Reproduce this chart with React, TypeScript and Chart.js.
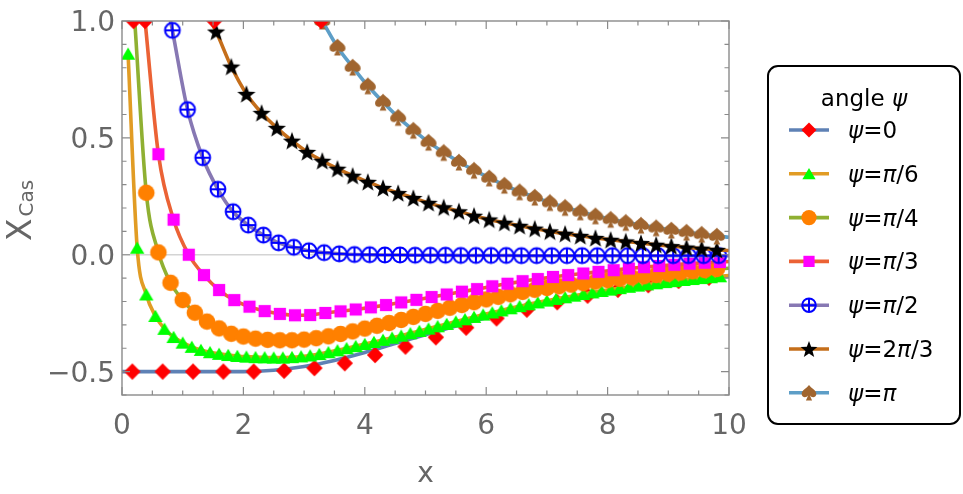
import { useEffect, useRef } from 'react';
import { Chart, registerables } from 'chart.js';

Chart.register(...registerables);

const W = 963;
const H = 494;

// ---- axes -----------------------------------------------------------------
const xRange = [0, 10];
const yRange = [-0.6, 1.0];
const xMajor = [0, 2, 4, 6, 8, 10];
const xMajorLabels = ['0', '2', '4', '6', '8', '10'];
const yMajor = [-0.5, 0, 0.5, 1.0];
const yMajorLabels = ['\u22120.5', '0.0', '0.5', '1.0'];
const xMinorStep = 0.5;
const yMinorStep = 0.1;

// ---- series ----------------------------------------------------------------
const seriesLabels = ['ψ=0', 'ψ=π/6', 'ψ=π/4', 'ψ=π/3', 'ψ=π/2', 'ψ=2π/3', 'ψ=π'];
const lineColors = ['#5E81B5', '#E19C24', '#8FB032', '#EB6235', '#8778B3', '#C56E1A', '#5D9EC7'];
const markColors = ['#FF0000', '#00FF00', '#FF8000', '#FF00FF', '#0000FF', '#000000', '#A0652F'];

// ψ = 0 : markers and the smooth curve
const psi0X = [0.17, 0.67, 1.17, 1.67, 2.17, 2.67, 3.17, 3.67, 4.17, 4.67, 5.17, 5.67, 6.17, 6.67, 7.17, 7.67, 8.17, 8.67, 9.17, 9.67];
const psi0Y = [-0.5, -0.5, -0.5, -0.5, -0.5, -0.496, -0.485, -0.464, -0.429, -0.393, -0.353, -0.312, -0.272, -0.235, -0.203, -0.175, -0.15, -0.13, -0.112, -0.098];
const psi0CurveX = [0, 1, 2, 2.5, 3, 3.5, 4, 4.5, 5, 5.5, 6, 6.5, 7, 7.5, 8, 8.5, 9, 9.5, 10];
const psi0CurveY = [-0.5, -0.5, -0.5, -0.494, -0.478, -0.452, -0.418, -0.38, -0.342, -0.305, -0.27, -0.238, -0.209, -0.183, -0.16, -0.14, -0.122, -0.106, -0.092];

// ψ = π/6
const psi6X = [0.10, 0.25, 0.40, 0.55, 0.70, 0.85, 1.00, 1.15, 1.30, 1.45, 1.60, 1.75, 1.90, 2.05, 2.20, 2.35, 2.50, 2.65, 2.80, 2.95, 3.10, 3.25, 3.40, 3.55, 3.70, 3.85, 4.00, 4.15, 4.30, 4.45, 4.60, 4.75, 4.90, 5.05, 5.20, 5.35, 5.50, 5.65, 5.80, 5.95, 6.10, 6.25, 6.40, 6.55, 6.70, 6.85, 7.00, 7.15, 7.30, 7.45, 7.60, 7.75, 7.90, 8.05, 8.20, 8.35, 8.50, 8.65, 8.80, 8.95, 9.10, 9.25, 9.40, 9.55, 9.70, 9.85];
const psi6Y = [0.86, 0.03, -0.17, -0.262, -0.317, -0.352, -0.376, -0.394, -0.407, -0.417, -0.424, -0.429, -0.433, -0.436, -0.438, -0.439, -0.44, -0.44, -0.438, -0.435, -0.431, -0.425, -0.417, -0.409, -0.4, -0.391, -0.382, -0.373, -0.364, -0.355, -0.346, -0.336, -0.326, -0.316, -0.306, -0.296, -0.286, -0.276, -0.266, -0.256, -0.247, -0.238, -0.229, -0.22, -0.212, -0.204, -0.196, -0.189, -0.182, -0.175, -0.168, -0.161, -0.155, -0.149, -0.143, -0.137, -0.132, -0.127, -0.122, -0.117, -0.113, -0.108, -0.104, -0.1, -0.096, -0.092];

// ψ = π/4
const psi4X = [0.4, 0.6, 0.8, 1.0, 1.2, 1.4, 1.6, 1.8, 2.0, 2.2, 2.4, 2.6, 2.8, 3.0, 3.2, 3.4, 3.6, 3.8, 4.0, 4.2, 4.4, 4.6, 4.8, 5.0, 5.2, 5.4, 5.6, 5.8, 6.0, 6.2, 6.4, 6.6, 6.8, 7.0, 7.2, 7.4, 7.6, 7.8, 8.0, 8.2, 8.4, 8.6, 8.8, 9.0, 9.2, 9.4, 9.6, 9.8];
const psi4Y = [0.265, 0.01, -0.12, -0.194, -0.248, -0.286, -0.315, -0.338, -0.35, -0.359, -0.364, -0.366, -0.366, -0.363, -0.357, -0.349, -0.339, -0.328, -0.316, -0.304, -0.292, -0.279, -0.266, -0.253, -0.24, -0.227, -0.215, -0.203, -0.191, -0.18, -0.169, -0.159, -0.15, -0.142, -0.135, -0.128, -0.122, -0.115, -0.109, -0.103, -0.097, -0.092, -0.087, -0.081, -0.076, -0.071, -0.066, -0.061];

// ψ = π/3
const psi3X = [0.60, 0.85, 1.10, 1.35, 1.60, 1.85, 2.10, 2.35, 2.60, 2.85, 3.10, 3.35, 3.60, 3.85, 4.10, 4.35, 4.60, 4.85, 5.10, 5.35, 5.60, 5.85, 6.10, 6.35, 6.60, 6.85, 7.10, 7.35, 7.60, 7.85, 8.10, 8.35, 8.60, 8.85, 9.10, 9.35, 9.60, 9.85];
const psi3Y = [0.43, 0.15, 0.0, -0.087, -0.151, -0.194, -0.222, -0.241, -0.253, -0.259, -0.258, -0.249, -0.242, -0.234, -0.225, -0.215, -0.204, -0.193, -0.181, -0.17, -0.158, -0.147, -0.135, -0.124, -0.113, -0.104, -0.095, -0.087, -0.08, -0.073, -0.066, -0.059, -0.053, -0.048, -0.043, -0.038, -0.034, -0.031];

// ψ = π/2
const psi2X = [0.83, 1.08, 1.33, 1.58, 1.83, 2.08, 2.33, 2.58, 2.83, 3.08, 3.33, 3.58, 3.83, 4.08, 4.33, 4.58, 4.83, 5.08, 5.33, 5.58, 5.83, 6.08, 6.33, 6.58, 6.83, 7.08, 7.33, 7.58, 7.83, 8.08, 8.33, 8.58, 8.83, 9.08, 9.33, 9.58, 9.83];
const psi2Y = [0.96, 0.621, 0.415, 0.28, 0.184, 0.127, 0.084, 0.051, 0.032, 0.017, 0.009, 0.004, 0.001, 0.0, -0.001, -0.001, -0.002, -0.002, -0.002, -0.003, -0.003, -0.003, -0.003, -0.004, -0.004, -0.004, -0.004, -0.004, -0.004, -0.004, -0.004, -0.004, -0.004, -0.004, -0.004, -0.004, -0.004];

// ψ = 2π/3
const psi23X = [1.55, 1.80, 2.05, 2.30, 2.55, 2.80, 3.05, 3.30, 3.55, 3.80, 4.05, 4.30, 4.55, 4.80, 5.05, 5.30, 5.55, 5.80, 6.05, 6.30, 6.55, 6.80, 7.05, 7.30, 7.55, 7.80, 8.05, 8.30, 8.55, 8.80, 9.05, 9.30, 9.55, 9.80];
const psi23Y = [0.955, 0.805, 0.688, 0.607, 0.543, 0.488, 0.44, 0.402, 0.368, 0.338, 0.312, 0.286, 0.264, 0.243, 0.222, 0.203, 0.186, 0.167, 0.151, 0.137, 0.124, 0.112, 0.1, 0.09, 0.081, 0.072, 0.064, 0.057, 0.05, 0.043, 0.037, 0.031, 0.026, 0.021];

// ψ = π
const psiPiX = [3.30, 3.55, 3.80, 4.05, 4.30, 4.55, 4.80, 5.05, 5.30, 5.55, 5.80, 6.05, 6.30, 6.55, 6.80, 7.05, 7.30, 7.55, 7.80, 8.05, 8.30, 8.55, 8.80, 9.05, 9.30, 9.55, 9.80];
const psiPiY = [1.0, 0.889, 0.803, 0.723, 0.653, 0.588, 0.533, 0.482, 0.438, 0.397, 0.362, 0.329, 0.298, 0.27, 0.247, 0.224, 0.203, 0.184, 0.167, 0.152, 0.139, 0.127, 0.116, 0.106, 0.097, 0.088, 0.08];

// x where a curve comes down through the top of the frame (y = 1), and its value at x = 10
const entryX = [null, null, 0.21, 0.38, 0.8, 1.46, null];
const exitY = [null, -0.089, -0.058, -0.029, -0.004, 0.018, 0.075];

// points lying above the frame are marked on its top edge
const topEdgeX = [0.19, 0.38, 1.52, 3.28];

const markX = [psi0X, psi6X, psi4X, psi3X, psi2X, psi23X, psiPiX];
const markY = [psi0Y, psi6Y, psi4Y, psi3Y, psi2Y, psi23Y, psiPiY];

// ---- marker glyphs ---------------------------------------------------------
const MS = 22;
type Kind = 'diamond' | 'triangle' | 'circle' | 'square' | 'circlePlus' | 'star' | 'spade';
const kinds: Kind[] = ['diamond', 'triangle', 'circle', 'square', 'circlePlus', 'star', 'spade'];

function drawMarker(ctx: CanvasRenderingContext2D, kind: Kind, cx: number, cy: number, color: string, k = 1) {
  ctx.save();
  ctx.fillStyle = color;
  ctx.strokeStyle = color;
  ctx.beginPath();
  if (kind === 'diamond') {
    const r = 8.2 * k;
    ctx.moveTo(cx, cy - r);
    ctx.lineTo(cx + r, cy);
    ctx.lineTo(cx, cy + r);
    ctx.lineTo(cx - r, cy);
    ctx.closePath();
    ctx.fill();
  } else if (kind === 'triangle') {
    ctx.moveTo(cx, cy - 6.3 * k);
    ctx.lineTo(cx + 7.2 * k, cy + 6.0 * k);
    ctx.lineTo(cx - 7.2 * k, cy + 6.0 * k);
    ctx.closePath();
    ctx.fill();
  } else if (kind === 'circle') {
    ctx.arc(cx, cy, 8.3 * k, 0, Math.PI * 2);
    ctx.fill();
  } else if (kind === 'square') {
    const h = 6.1 * k;
    ctx.rect(cx - h, cy - h, 2 * h, 2 * h);
    ctx.fill();
  } else if (kind === 'circlePlus') {
    const r = 7.4 * k;
    ctx.lineWidth = 2;
    ctx.arc(cx, cy, r, 0, Math.PI * 2);
    ctx.moveTo(cx - r, cy);
    ctx.lineTo(cx + r, cy);
    ctx.moveTo(cx, cy - r);
    ctx.lineTo(cx, cy + r);
    ctx.stroke();
  } else if (kind === 'star') {
    const R = 9.6 * k;
    const r = 4.0 * k;
    const oy = cy + 0.9 * k;
    for (let j = 0; j < 10; j++) {
      const a = -Math.PI / 2 + (j * Math.PI) / 5;
      const rr = j % 2 === 0 ? R : r;
      const px = cx + rr * Math.cos(a);
      const py = oy + rr * Math.sin(a);
      if (j === 0) ctx.moveTo(px, py);
      else ctx.lineTo(px, py);
    }
    ctx.closePath();
    ctx.fill();
  } else if (kind === 'spade') {
    const s = 8.4 * k;
    ctx.moveTo(cx, cy - s);
    ctx.bezierCurveTo(cx + s * 0.25, cy - s * 0.6, cx + s * 0.98, cy - s * 0.35, cx + s * 0.95, cy + s * 0.18);
    ctx.bezierCurveTo(cx + s * 0.9, cy + s * 0.64, cx + s * 0.32, cy + s * 0.68, cx + s * 0.1, cy + s * 0.32);
    ctx.lineTo(cx + s * 0.4, cy + s);
    ctx.lineTo(cx - s * 0.4, cy + s);
    ctx.lineTo(cx - s * 0.1, cy + s * 0.32);
    ctx.bezierCurveTo(cx - s * 0.32, cy + s * 0.68, cx - s * 0.9, cy + s * 0.64, cx - s * 0.95, cy + s * 0.18);
    ctx.bezierCurveTo(cx - s * 0.98, cy - s * 0.35, cx - s * 0.25, cy - s * 0.6, cx, cy - s);
    ctx.closePath();
    ctx.fill();
  }
  ctx.restore();
}

function markerImage(kind: Kind, color: string): HTMLCanvasElement {
  const c = document.createElement('canvas');
  c.width = MS;
  c.height = MS;
  const ctx = c.getContext('2d') as CanvasRenderingContext2D;
  drawMarker(ctx, kind, MS / 2, MS / 2, color);
  return c;
}

// ---- text helpers ------------------------------------------------------------
const FONT = '"DejaVu Sans", "Liberation Sans", sans-serif';
const isGreek = (ch: string) => ch === 'ψ' || ch === 'π';

function labelRuns(text: string): [string, boolean][] {
  const runs: [string, boolean][] = [];
  for (const ch of text) {
    const it = isGreek(ch);
    if (runs.length && runs[runs.length - 1][1] === it) runs[runs.length - 1][0] += ch;
    else runs.push([ch, it]);
  }
  return runs;
}

function drawRuns(ctx: CanvasRenderingContext2D, runs: [string, boolean][], x: number, y: number, size: number) {
  let cx = x;
  for (const [t, it] of runs) {
    ctx.font = `${it ? 'italic ' : ''}${size}px ${FONT}`;
    ctx.fillText(t, cx, y);
    cx += ctx.measureText(t).width;
  }
}

function runsWidth(ctx: CanvasRenderingContext2D, runs: [string, boolean][], size: number) {
  let w = 0;
  for (const [t, it] of runs) {
    ctx.font = `${it ? 'italic ' : ''}${size}px ${FONT}`;
    w += ctx.measureText(t).width;
  }
  return w;
}

export default function App() {
  const canvasRef = useRef<HTMLCanvasElement | null>(null);

  useEffect(() => {
    const canvas = canvasRef.current;
    if (!canvas) return;

    const images = kinds.map((k, i) => markerImage(k, markColors[i]));

    const datasets: any[] = [];
    // ψ = 0 has its curve and its markers drawn separately
    datasets.push({
      data: psi0CurveX.map((x, i) => ({ x, y: psi0CurveY[i] })),
      showLine: true,
      borderColor: lineColors[0],
      borderWidth: 3.6,
      pointRadius: 0,
      cubicInterpolationMode: 'monotone',
      clip: 0,
      order: 21,
    });
    datasets.push({
      data: psi0X.map((x, i) => ({ x, y: psi0Y[i] })),
      showLine: false,
      pointStyle: images[0],
      pointRadius: 5,
      clip: 0,
      order: 20,
    });
    for (let s = 1; s < seriesLabels.length; s++) {
      const pts: { x: number; y: number }[] = [];
      const radii: number[] = [];
      const ex = entryX[s];
      if (ex !== null) {
        pts.push({ x: ex, y: 1.0 });
        radii.push(0);
      }
      markX[s].forEach((x, i) => {
        pts.push({ x, y: markY[s][i] });
        radii.push(5);
      });
      const ey = exitY[s];
      if (ey !== null) {
        pts.push({ x: 10, y: ey });
        radii.push(0);
      }
      datasets.push({
        data: pts,
        showLine: true,
        borderColor: lineColors[s],
        borderWidth: 3.6,
        pointStyle: images[s],
        pointRadius: radii,
        cubicInterpolationMode: 'monotone',
        clip: 0,
        order: 20 - 2 * s,
      });
    }
    datasets.push({
      data: topEdgeX.map((x) => ({ x, y: 1.0 })),
      showLine: false,
      pointStyle: images[0],
      pointRadius: 5,
      clip: 0,
      order: 0,
    });

    const decor = {
      id: 'decor',
      beforeDatasetsDraw(chart: any) {
        const { ctx, chartArea: a, scales } = chart;
        const y0 = scales.y.getPixelForValue(0);
        ctx.save();
        ctx.strokeStyle = '#d4d4d4';
        ctx.lineWidth = 1.5;
        ctx.beginPath();
        ctx.moveTo(a.left, y0);
        ctx.lineTo(a.right, y0);
        ctx.stroke();
        ctx.restore();
      },
      afterDraw(chart: any) {
        const { ctx, chartArea: a, scales } = chart;
        const xs = scales.x;
        const ys = scales.y;
        ctx.save();

        // frame
        ctx.strokeStyle = '#8a8a8a';
        ctx.lineWidth = 1.4;
        ctx.strokeRect(a.left, a.top, a.right - a.left, a.bottom - a.top);

        // ticks, pointing inward on all four sides
        ctx.lineWidth = 1.2;
        ctx.beginPath();
        const nx = Math.round((xRange[1] - xRange[0]) / xMinorStep);
        for (let k = 0; k <= nx; k++) {
          const v = xRange[0] + k * xMinorStep;
          const px = xs.getPixelForValue(v);
          const major = xMajor.some((m) => Math.abs(m - v) < 1e-6);
          const len = major ? 8 : 4.5;
          ctx.moveTo(px, a.bottom);
          ctx.lineTo(px, a.bottom - len);
          ctx.moveTo(px, a.top);
          ctx.lineTo(px, a.top + len);
        }
        const ny = Math.round((yRange[1] - yRange[0]) / yMinorStep);
        for (let k = 0; k <= ny; k++) {
          const v = yRange[0] + k * yMinorStep;
          const py = ys.getPixelForValue(v);
          const major = yMajor.some((m) => Math.abs(m - v) < 1e-6);
          const len = major ? 8 : 4.5;
          ctx.moveTo(a.left, py);
          ctx.lineTo(a.left + len, py);
          ctx.moveTo(a.right, py);
          ctx.lineTo(a.right - len, py);
        }
        ctx.stroke();

        // tick labels
        ctx.fillStyle = '#666666';
        ctx.font = `28px ${FONT}`;
        ctx.textBaseline = 'alphabetic';
        ctx.textAlign = 'center';
        xMajor.forEach((v, i) => {
          ctx.fillText(xMajorLabels[i], xs.getPixelForValue(v), 433.5);
        });
        ctx.textAlign = 'right';
        yMajor.forEach((v, i) => {
          ctx.fillText(yMajorLabels[i], 115, ys.getPixelForValue(v) + 10.2);
        });

        // axis titles
        ctx.textAlign = 'center';
        ctx.font = `28px ${FONT}`;
        ctx.fillText('x', (a.left + a.right) / 2, 482);

        ctx.save();
        ctx.translate(31, 241);
        ctx.rotate(-Math.PI / 2);
        ctx.textAlign = 'left';
        ctx.font = `33px ${FONT}`;
        ctx.fillText('X', 0, 0);
        const wX = ctx.measureText('X').width;
        ctx.font = `20px ${FONT}`;
        ctx.fillText('Cas', wX + 2, 2);
        ctx.restore();

        // legend box
        const L = 768, T = 66, R = 960, B = 424, rad = 10;
        ctx.beginPath();
        ctx.moveTo(L + rad, T);
        ctx.arcTo(R, T, R, B, rad);
        ctx.arcTo(R, B, L, B, rad);
        ctx.arcTo(L, B, L, T, rad);
        ctx.arcTo(L, T, R, T, rad);
        ctx.closePath();
        ctx.fillStyle = '#ffffff';
        ctx.fill();
        ctx.strokeStyle = '#000000';
        ctx.lineWidth = 2;
        ctx.stroke();

        ctx.fillStyle = '#000000';
        ctx.textAlign = 'left';
        const titleRuns: [string, boolean][] = [['angle ', false], ['ψ', true]];
        const tw = runsWidth(ctx, titleRuns, 23);
        drawRuns(ctx, titleRuns, (L + R) / 2 - tw / 2, 106, 23);

        seriesLabels.forEach((lab, i) => {
          const cy = 130 + 43.8 * i;
          ctx.strokeStyle = lineColors[i];
          ctx.lineWidth = 3.6;
          ctx.beginPath();
          ctx.moveTo(789, cy);
          ctx.lineTo(829, cy);
          ctx.stroke();
          drawMarker(ctx, kinds[i], 809, cy, markColors[i], 0.92);
          ctx.fillStyle = '#000000';
          drawRuns(ctx, labelRuns(lab), 848, cy + 8, 23);
        });

        ctx.restore();
      },
    };

    const chart = new Chart(canvas, {
      type: 'scatter',
      data: { datasets },
      options: {
        responsive: false,
        devicePixelRatio: 1,
        animation: false,
        layout: { padding: { left: 122, top: 21, right: 234, bottom: 99 } },
        scales: {
          x: { type: 'linear', min: xRange[0], max: xRange[1], display: false },
          y: { type: 'linear', min: yRange[0], max: yRange[1], display: false },
        },
        plugins: {
          legend: { display: false },
          tooltip: { enabled: false },
        },
        events: [],
      },
      plugins: [decor],
    } as any);

    return () => chart.destroy();
  }, []);

  return (
    <div style={{ position: 'absolute', left: 0, top: 0, width: W, height: H, background: '#ffffff' }}>
      <canvas ref={canvasRef} width={W} height={H} style={{ display: 'block' }} />
    </div>
  );
}
